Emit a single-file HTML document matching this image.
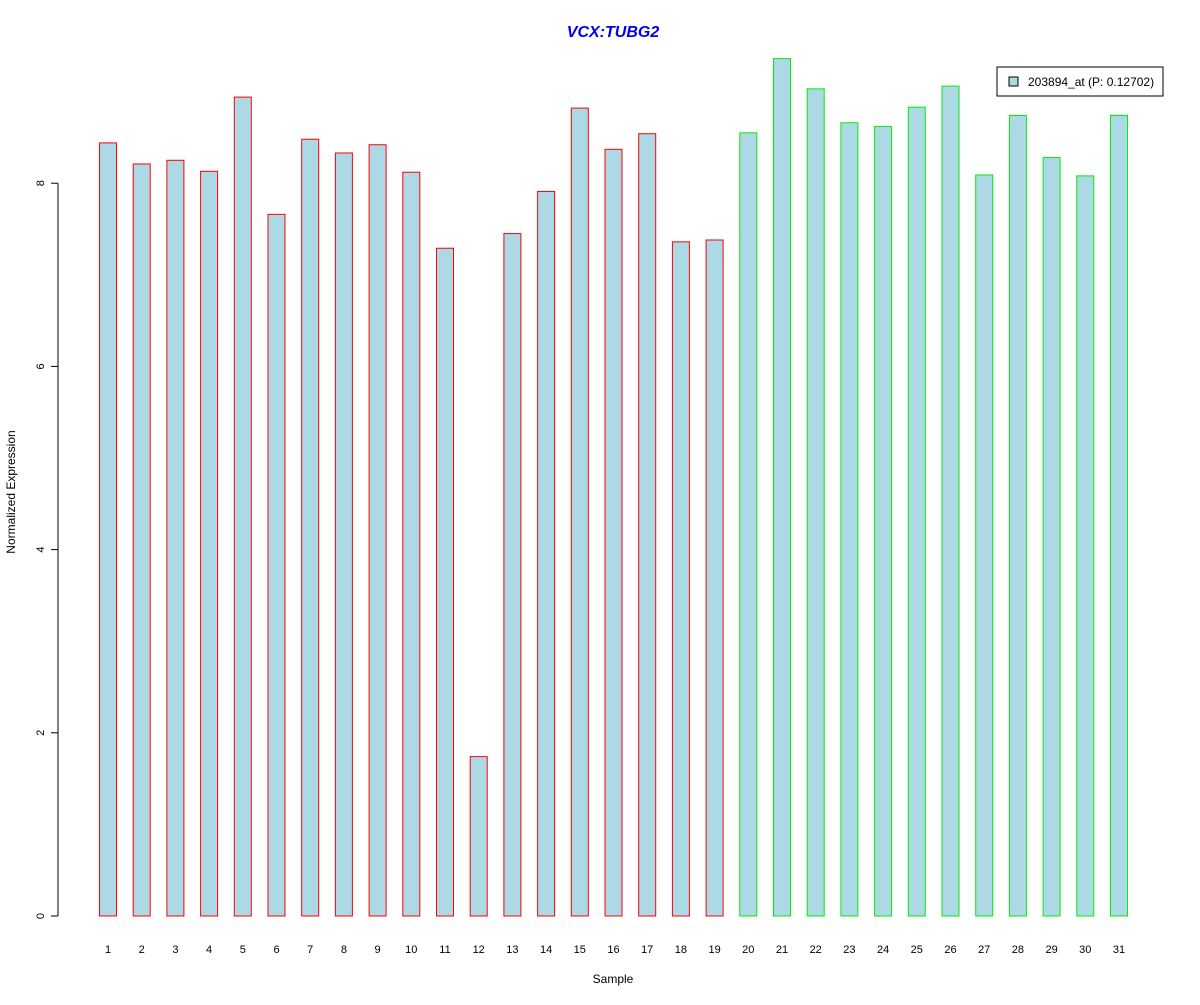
<!DOCTYPE html>
<html><head><meta charset="utf-8"><style>
body{margin:0;background:#fff;}
svg text{font-family:"Liberation Sans",sans-serif;}
</style></head><body>
<svg id="chart" width="1200" height="1000">
<text x="613" y="37" text-anchor="middle" font-size="16" font-weight="bold" font-style="italic" fill="#0000ee">VCX:TUBG2</text>
<text x="613" y="983" text-anchor="middle" font-size="12">Sample</text>
<text transform="translate(15,492) rotate(-90)" text-anchor="middle" font-size="12">Normalized Expression</text>
<g id="yaxis"></g>
<g id="bars"></g>
<g id="xlabels"></g>
<g>
<rect x="997" y="67" width="166" height="29" fill="#fff" stroke="#000"/>
<rect x="1009" y="77" width="9" height="9" fill="#add8e6" stroke="#000"/>
<text x="1028" y="86" font-size="12">203894_at (P: 0.12702)</text>
</g>
</svg>
<script>
const samples=[1,2,3,4,5,6,7,8,9,10,11,12,13,14,15,16,17,18,19,20,21,22,23,24,25,26,27,28,29,30,31];
const values=[8.44,8.21,8.25,8.13,8.94,7.66,8.48,8.33,8.42,8.12,7.29,1.74,7.45,7.91,8.82,8.37,8.54,7.36,7.38,8.55,9.36,9.03,8.66,8.62,8.83,9.06,8.09,8.74,8.28,8.08,8.74];
const groups=["r","r","r","r","r","r","r","r","r","r","r","r","r","r","r","r","r","r","r","g","g","g","g","g","g","g","g","g","g","g","g"];
const yTicks=[0,2,4,6,8];
const NS="http://www.w3.org/2000/svg";
const y=v=>916-v*91.6;
const x=i=>108+i*33.7;
const ya=document.getElementById('yaxis');
function mk(t,a,p){const e=document.createElementNS(NS,t);for(const k in a)e.setAttribute(k,a[k]);p.appendChild(e);return e;}
mk('line',{x1:58,x2:58,y1:y(yTicks[0]),y2:y(yTicks[yTicks.length-1]),stroke:'#000'},ya);
yTicks.forEach(t=>{
  const l=mk('line',{x1:51,x2:58,y1:y(t),y2:y(t),stroke:'#000'},ya);
  
  
  const tx=mk('text',{transform:`translate(44,${y(t)}) rotate(-90)`,'text-anchor':'middle','font-size':11},ya);
  tx.textContent=t;
  
  
});
const bg=document.getElementById('bars'),xl=document.getElementById('xlabels');
values.forEach((v,i)=>{
  const r=mk('rect',{x:x(i)-8.5,y:y(v),width:17,height:y(0)-y(v),fill:'#add8e6',stroke:groups[i]==='r'?'#ff0000':'#00ee00'},bg);
  
  
  const t=mk('text',{x:x(i),y:953,'text-anchor':'middle','font-size':11},xl);
  t.textContent=samples[i];
  
  
});
</script>
</body></html>
